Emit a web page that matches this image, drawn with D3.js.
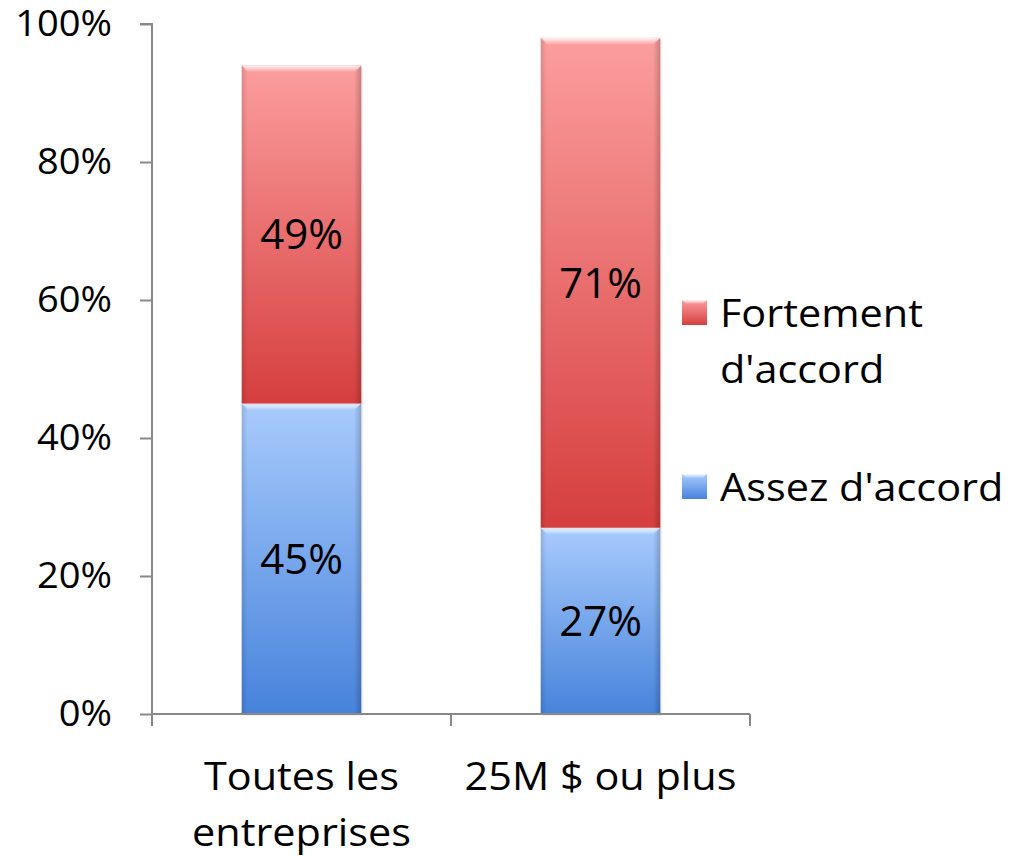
<!DOCTYPE html>
<html>
<head>
<meta charset="utf-8">
<script src="https://cdn.jsdelivr.net/npm/d3@7"></script>
<style>
  html, body { margin: 0; padding: 0; background: #fff; }
  svg text { font-family: "Open Sans", Lato, sans-serif; fill: #000; }
</style>
</head>
<body>
<svg id="chart" width="1026" height="856"></svg>
<script>
const categories = [["Toutes les", "entreprises"], ["25M $ ou plus"]];
const categoryKeys = ["Toutes les entreprises", "25M $ ou plus"];
const seriesNames = ["Assez d'accord", "Fortement d'accord"];
const assezValues = [45, 27];
const fortementValues = [49, 71];
const yTicks = [0, 20, 40, 60, 80, 100];

const TEXT_SX = 1.09;
const svg = d3.select("#chart");
const margin = { left: 152, top: 24, right: 276, bottom: 142 };
const W = 1026, H = 856;
const plotW = W - margin.left - margin.right;
const plotH = H - margin.top - margin.bottom;

const x = d3.scaleBand().domain(categoryKeys).range([margin.left, margin.left + plotW]).paddingInner(0.6).paddingOuter(0.3);
const xOuter = d3.scaleBand().domain(categoryKeys).range([margin.left, margin.left + plotW]);
const y = d3.scaleLinear().domain([0, 100]).range([margin.top + plotH, margin.top]);

const defs = svg.append("defs");
function grad(id, top, bottom) {
  const g = defs.append("linearGradient").attr("id", id).attr("x1", 0).attr("y1", 0).attr("x2", 0).attr("y2", 1);
  g.append("stop").attr("offset", "0%").attr("stop-color", top);
  g.append("stop").attr("offset", "100%").attr("stop-color", bottom);
}
grad("gBlue", "#a8cbfc", "#4783dc");
grad("gRed", "#fc9e9e", "#d63e3e");
const side = defs.append("linearGradient").attr("id", "gSide").attr("x1", 0).attr("y1", 0).attr("x2", 1).attr("y2", 0);
side.append("stop").attr("offset", "0%").attr("stop-color", "#000").attr("stop-opacity", 0.12);
side.append("stop").attr("offset", "5%").attr("stop-color", "#000").attr("stop-opacity", 0);
side.append("stop").attr("offset", "94%").attr("stop-color", "#000").attr("stop-opacity", 0);
side.append("stop").attr("offset", "100%").attr("stop-color", "#000").attr("stop-opacity", 0.2);
const topHi = defs.append("linearGradient").attr("id", "gTop").attr("x1", 0).attr("y1", 0).attr("x2", 0).attr("y2", 1);
topHi.append("stop").attr("offset", "0%").attr("stop-color", "#fff").attr("stop-opacity", 0.9);
topHi.append("stop").attr("offset", "100%").attr("stop-color", "#fff").attr("stop-opacity", 0);

const data = categoryKeys.map((k, i) => ({ key: k, assez: assezValues[i], fortement: fortementValues[i] }));
const stack = d3.stack().keys(["assez", "fortement"])(data);
const fills = { assez: "url(#gBlue)", fortement: "url(#gRed)" };

const bars = svg.append("g");
stack.forEach(layer => {
  layer.forEach(d => {
    const x0 = x(d.data.key), bw = x.bandwidth();
    const y0 = y(d[1]), h = y(d[0]) - y(d[1]);
    bars.append("rect").attr("x", x0 + 2).attr("y", y0 + 2).attr("width", bw).attr("height", h)
      .attr("fill", "#000").attr("opacity", 0.06);
    bars.append("rect").attr("x", x0).attr("y", y0).attr("width", bw).attr("height", h).attr("fill", fills[layer.key]);
    bars.append("rect").attr("x", x0).attr("y", y0).attr("width", bw).attr("height", h).attr("fill", "url(#gSide)");
    bars.append("path")
      .attr("d", `M${x0},${y0}H${x0 + bw}L${x0 + bw - 7},${y0 + 7}H${x0 + 7}Z`)
      .attr("fill", "url(#gTop)");
    const v = d[1] - d[0];
    bars.append("text").attr("x", x0 + bw / 2).attr("y", y((d[0] + d[1]) / 2) + 15)
      .attr("text-anchor", "middle")
      .style("font-size", "42px").text(v + "%");
  });
});

// Y axis
const yAxis = svg.append("g").attr("transform", `translate(${margin.left},0)`)
  .call(d3.axisLeft(y).tickValues(yTicks).tickFormat(d => d + "%").tickSize(12).tickPadding(40));
yAxis.selectAll("path, line").attr("stroke", "#888").attr("stroke-width", 2);
yAxis.select(".domain").attr("d", `M-12,${y(100)}H0V${y(0)}`);
yAxis.selectAll(".tick text").attr("dy", null).attr("x", null)
  .attr("transform", "translate(-40,11) scale(1.03,1)")
  .style("font-size", "37px").style("font-family", "'Open Sans', sans-serif");

// X axis
const xAxisG = svg.append("g").attr("transform", `translate(0,${y(0)})`);
xAxisG.append("line").attr("x1", margin.left).attr("x2", margin.left + plotW).attr("y1", 0).attr("y2", 0)
  .attr("stroke", "#888").attr("stroke-width", 2);
const tickXs = [margin.left].concat(categoryKeys.map(k => xOuter(k) + xOuter.bandwidth()));
tickXs.forEach(tx => xAxisG.append("line").attr("x1", tx).attr("x2", tx).attr("y1", 0).attr("y2", 12)
  .attr("stroke", "#888").attr("stroke-width", 2));
categoryKeys.forEach((k, i) => {
  categories[i].forEach((line, j) => {
    xAxisG.append("text").attr("text-anchor", "middle").style("font-size", "38px")
      .attr("transform", `translate(${x(k) + x.bandwidth() / 2},${76 + j * 56}) scale(${TEXT_SX},1)`)
      .text(line);
  });
});

// Legend
const legend = svg.append("g");
const legendItems = [
  { key: "fortement", lines: ["Fortement", "d'accord"], y: 300 },
  { key: "assez", lines: ["Assez d'accord"], y: 474 }
];
legendItems.forEach(it => {
  legend.append("rect").attr("x", 682).attr("y", it.y).attr("width", 25).attr("height", 25).attr("fill", fills[it.key]);
  legend.append("path").attr("d", `M682,${it.y}h25l-4,4h-17z`).attr("fill", "url(#gTop)");
  it.lines.forEach((l, j) => {
    legend.append("text").style("font-size", "38px")
      .attr("transform", `translate(720,${it.y + 27 + j * 56}) scale(${TEXT_SX},1)`)
      .text(l);
  });
});
</script>
</body>
</html>
